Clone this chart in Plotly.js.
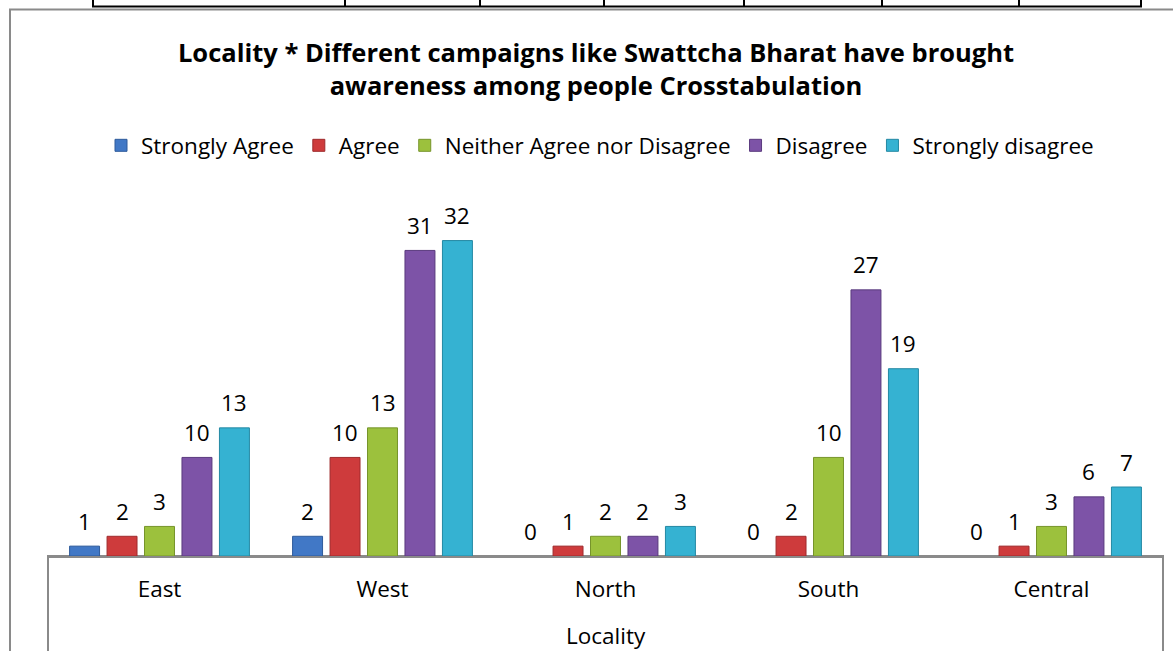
<!DOCTYPE html>
<html>
<head>
<meta charset="utf-8">
<script src="https://cdn.plot.ly/plotly-3.0.1.min.js"></script>
<style>html,body{margin:0;padding:0;background:#fff;}#chart{width:1173px;height:651px;}</style>
</head>
<body>
<div id="chart"></div>
<script>
// ---- data ----
const localities = ["East", "West", "North", "South", "Central"];
const seriesNames = ["Strongly Agree", "Agree", "Neither Agree nor Disagree", "Disagree", "Strongly disagree"];
const stronglyAgree = [1, 2, 0, 0, 0];
const agree = [2, 10, 1, 2, 1];
const neither = [3, 13, 2, 10, 3];
const disagree = [10, 31, 2, 27, 6];
const stronglyDisagree = [13, 32, 3, 19, 7];
const seriesColors = ["#4178C6", "#CE3B3C", "#9CC13D", "#7D53A7", "#35B2D2"];
const edgeColors = ["#2F5B9B", "#9E2A2C", "#76942B", "#5A3A7E", "#2488A3"];
const titleText = "Locality * Different campaigns like Swattcha Bharat have brought<br>awareness among people Crosstabulation";
const xTitle = "Locality";

const seriesValues = [stronglyAgree, agree, neither, disagree, stronglyDisagree];

// ---- layout geometry ----
const W = 1173, H = 651;
const mL = 48, mR = 10, mB = 95;
const pxPerUnit = 9.85, yMax = 35;
const plotH = yMax * pxPerUnit;
const mT = H - mB - plotH;
const plotW = W - mL - mR;
const bargap = 0.16, bargroupgap = 0.2;
const catW = plotW / localities.length;
const slotW = catW * (1 - bargap) / seriesNames.length;

const px2x = px => (px - mL) / plotW;
const px2y = py => (H - mB - py) / plotH;

const FONT = "'Open Sans', 'Noto Sans', sans-serif";
const FS = 22.5;

const traces = seriesNames.map((name, i) => ({
  type: "bar",
  name: name,
  x: localities,
  y: seriesValues[i],
  marker: {
    color: seriesColors[i],
    line: { color: edgeColors[i], width: seriesValues[i].map(v => (v > 0 ? 1 : 0)) }
  },
  hoverinfo: "x+y+name"
}));

const annotations = [];
seriesValues.forEach((vals, i) => {
  vals.forEach((v, j) => {
    annotations.push({
      x: localities[j], y: v, xref: "x", yref: "y",
      text: String(v), showarrow: false,
      xshift: (i - (seriesNames.length - 1) / 2) * slotW,
      yshift: 25,
      font: { family: FONT, size: FS, color: "#000" }
    });
  });
});
annotations.push({
  x: px2x(606), y: px2y(635), xref: "paper", yref: "paper",
  text: xTitle, showarrow: false, yanchor: "middle",
  font: { family: FONT, size: FS, color: "#000" }
});

const shapes = [];
// outer chart border
shapes.push({ type: "rect", xref: "paper", yref: "paper",
  x0: px2x(10), x1: px2x(1180), y0: px2y(660), y1: px2y(10),
  line: { color: "#8a8a8a", width: 2 }, fillcolor: "rgba(0,0,0,0)", layer: "below" });
// x-axis table box
shapes.push({ type: "rect", xref: "paper", yref: "paper",
  x0: 0, x1: 1, y0: px2y(660), y1: 0,
  line: { color: "#8a8a8a", width: 2 }, fillcolor: "rgba(0,0,0,0)", layer: "below" });
// table fragment at the very top
shapes.push({ type: "line", xref: "paper", yref: "paper",
  x0: px2x(92), x1: px2x(1142), y0: px2y(7), y1: px2y(7),
  line: { color: "#000", width: 2 } });
[93, 345, 480, 604, 744, 882, 1019, 1141].forEach(px => {
  shapes.push({ type: "line", xref: "paper", yref: "paper",
    x0: px2x(px), x1: px2x(px), y0: px2y(-2), y1: px2y(7),
    line: { color: "#000", width: 2 } });
});

const layout = {
  width: W, height: H,
  margin: { l: mL, r: mR, t: mT, b: mB, pad: 0 },
  paper_bgcolor: "#fff", plot_bgcolor: "rgba(0,0,0,0)",
  barmode: "group", bargap: bargap, bargroupgap: bargroupgap,
  showlegend: true,
  title: {
    text: titleText,
    x: 596 / W, xanchor: "center",
    y: 1 - 62 / H, yanchor: "middle", yref: "container",
    font: { family: FONT, size: 25.5, color: "#000", weight: "bold" }
  },
  legend: {
    orientation: "h", x: px2x(600), xanchor: "center",
    y: px2y(146), yanchor: "middle",
    font: { family: FONT, size: FS, color: "#000" },
    itemwidth: 30, traceorder: "normal", bgcolor: "rgba(0,0,0,0)"
  },
  xaxis: {
    showgrid: false, zeroline: false, showline: true, linecolor: "#8a8a8a", linewidth: 2,
    ticks: "outside", ticklen: 12, tickcolor: "rgba(0,0,0,0)",
    tickfont: { family: FONT, size: FS, color: "#000" },
    fixedrange: true
  },
  yaxis: {
    range: [0, yMax], visible: false, showgrid: false, zeroline: false, fixedrange: true
  },
  annotations: annotations,
  shapes: shapes
};

Plotly.newPlot("chart", traces, layout, { displayModeBar: false, staticPlot: true });
</script>
</body>
</html>
